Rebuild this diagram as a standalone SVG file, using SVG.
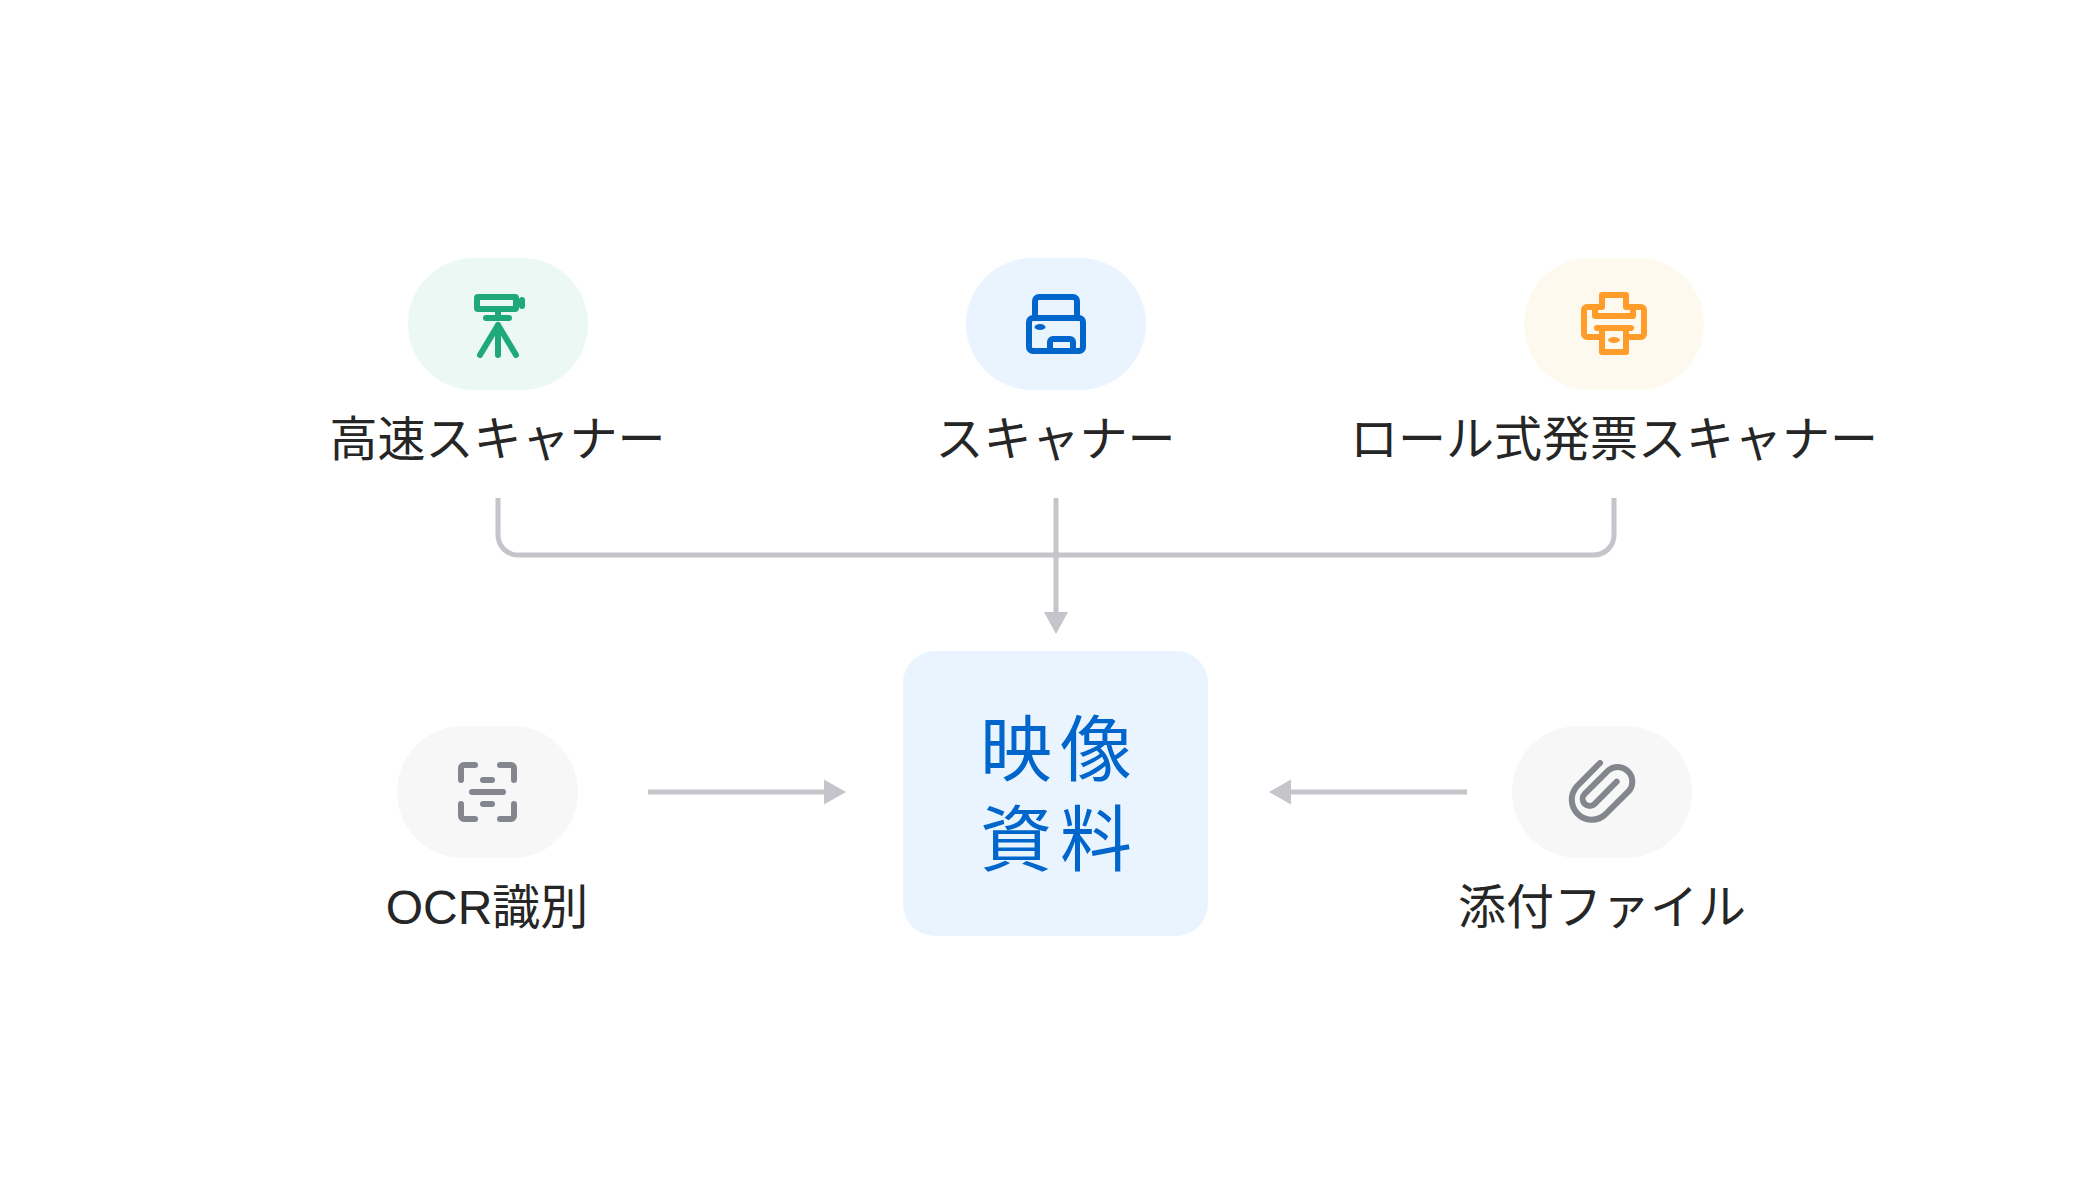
<svg xmlns="http://www.w3.org/2000/svg" width="2100" height="1200" viewBox="0 0 2100 1200">
<defs>
<style>
.lb{font-family:"Noto Sans CJK JP","Noto Sans",sans-serif;font-size:48px;fill:#262626;text-anchor:middle;font-weight:400}
.lat{font-family:"Liberation Sans","Noto Sans CJK JP",sans-serif}
.ct{font-family:"Noto Sans CJK JP",sans-serif;font-size:72px;fill:#0066CC;text-anchor:middle;letter-spacing:8px}
.i{fill:none;stroke-width:6;stroke-linecap:round;stroke-linejoin:round}
.c{fill:none;stroke:#C4C5CB;stroke-width:5}
.a{fill:#C4C5CB}
</style>
</defs>
<rect width="2100" height="1200" fill="#FFFFFF"/>
<g id="connectors">
<path class="c" d="M498 498V535a20 20 0 0 0 20 20H1594a20 20 0 0 0 20-20V498"/>
<path class="c" d="M1056 498V614"/>
<polygon class="a" points="1044,612 1068,612 1056,634"/>
<path class="c" d="M648 792H826"/>
<polygon class="a" points="824,779.500 824,804.500 846,792"/>
<path class="c" d="M1467 792H1289"/>
<polygon class="a" points="1291,779.500 1291,804.500 1269,792"/>
</g>
<g id="node-highspeed">
<rect x="408" y="258" width="180" height="132" rx="66" fill="#ECF8F4"/>
<g class="i" stroke="#1FA97A">
<rect x="477" y="297" width="39" height="12" rx="1"/>
<path d="M498 312V318M486 318H509M498 325L480 355M498 325L516 355M498 325V355"/>
</g>
<rect x="519" y="297" width="6" height="12" rx="3" fill="#1FA97A"/>
<text class="lb" x="497.500" y="455.500">高速スキャナー</text>
</g>
<g id="node-scanner">
<rect x="966" y="258" width="180" height="132" rx="66" fill="#E9F4FE"/>
<g class="i" stroke="#0066CC">
<path d="M1035 315V301a4 4 0 0 1 4-4H1073a4 4 0 0 1 4 4V315"/>
<rect x="1029" y="318" width="54" height="33" rx="4"/>
<path d="M1050 351V342a3 3 0 0 1 3-3H1070a3 3 0 0 1 3 3V351"/>
</g>
<ellipse cx="1040" cy="327" rx="5.500" ry="3" fill="#0066CC"/>
<text class="lb" x="1055.500" y="455.500">スキャナー</text>
</g>
<g id="node-roll">
<rect x="1524" y="258" width="180" height="132" rx="66" fill="#FEF9EE"/>
<g class="i" stroke="#FF9C2A">
<path d="M1602 307V295H1626V307H1633V316H1595V307Z"/>
<path d="M1595 307H1587a3 3 0 0 0-3 3V334a3 3 0 0 0 3 3H1602M1633 307H1641a3 3 0 0 1 3 3V334a3 3 0 0 1-3 3H1626"/>
<path d="M1597 328H1631M1602 328V352H1626V328"/>
</g>
<ellipse cx="1614" cy="340" rx="6" ry="3" fill="#FF9C2A"/>
<text class="lb" x="1614" y="455.500">ロール式発票スキャナー</text>
</g>
<g id="node-video">
<rect x="903" y="651" width="305" height="285" rx="32" fill="#E9F4FE"/>
<text class="ct" x="1060" y="775">映像</text>
<text class="ct" x="1060" y="865">資料</text>
</g>
<g id="node-ocr">
<rect x="397" y="726" width="181" height="132" rx="66" fill="#F7F7F8"/>
<path class="i" stroke="#83868C" d="M461 780V768a3 3 0 0 1 3-3H475M500 765H511a3 3 0 0 1 3 3V780M461 804V816a3 3 0 0 0 3 3H475M500 819H511a3 3 0 0 0 3-3V804M483 780H492M472 792H503M483 804H492"/>
<text class="lb lat" x="487" y="923.500">OCR識別</text>
</g>
<g id="node-attach">
<rect x="1512" y="726" width="180" height="132" rx="66" fill="#F7F7F8"/>
<path class="i" stroke="#83868C" d="M1600 763L1576.600 786.700A20 20 0 0 0 1604.800 814.900L1628.700 791.200A14.600 14.600 0 0 0 1608.100 770.600L1584.700 793.900A7 7 0 0 0 1594.700 803.800L1616.700 781.700"/>
<text class="lb" x="1602" y="923.500">添付ファイル</text>
</g>
</svg>
